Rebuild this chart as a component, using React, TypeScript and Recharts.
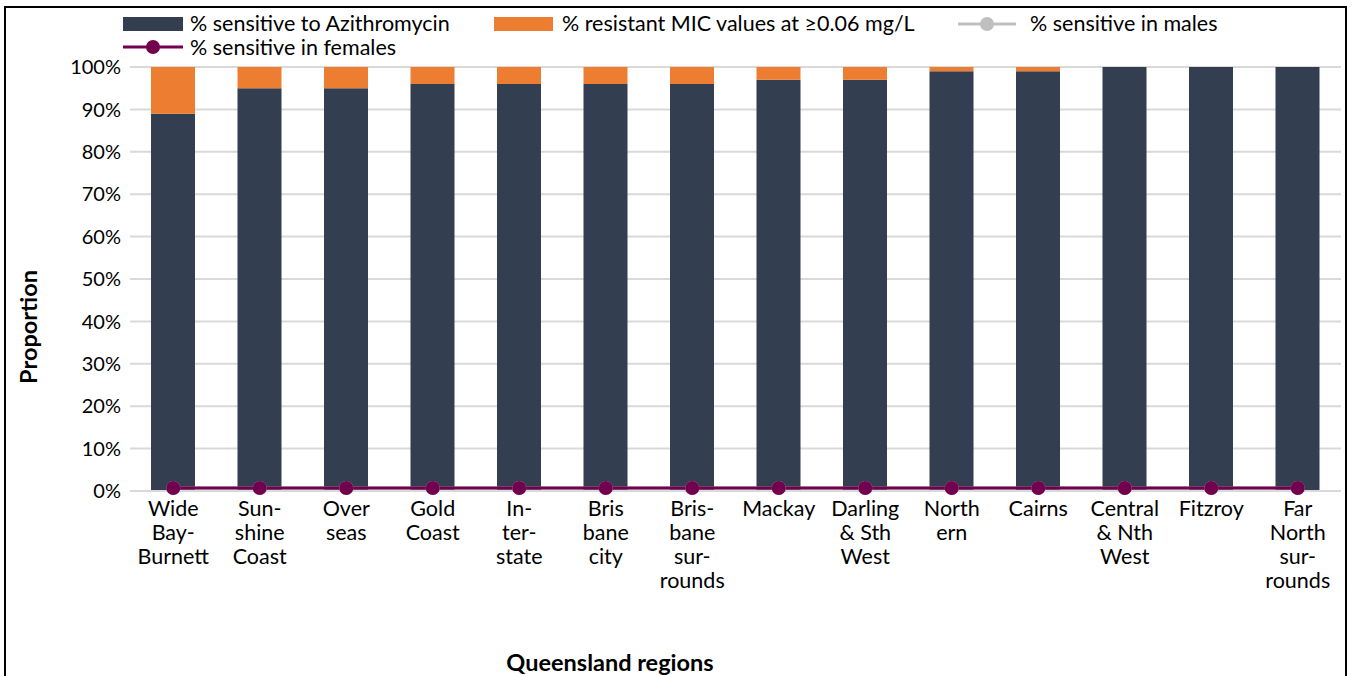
import React from "react";
import { ComposedChart, Bar, Line, XAxis, YAxis, CartesianGrid, Legend } from "recharts";

const categories = [
  "Wide\nBay-\nBurnett",
  "Sun-\nshine\nCoast",
  "Over\nseas",
  "Gold\nCoast",
  "In-\nter-\nstate",
  "Bris\nbane\ncity",
  "Bris-\nbane\nsur-\nrounds",
  "Mackay",
  "Darling\n& Sth\nWest",
  "North\nern",
  "Cairns",
  "Central\n& Nth\nWest",
  "Fitzroy",
  "Far\nNorth\nsur-\nrounds",
];
const sensitive = [89, 95, 95, 96, 96, 96, 96, 97, 97, 99, 99, 100, 100, 100];
const resistant = [11, 5, 5, 4, 4, 4, 4, 3, 3, 1, 1, 0, 0, 0];
const males = [0.7, 0.7, 0.7, 0.7, 0.7, 0.7, 0.7, 0.7, 0.7, 0.7, 0.7, 0.7, 0.7, 0.7];
const females = [0.7, 0.7, 0.7, 0.7, 0.7, 0.7, 0.7, 0.7, 0.7, 0.7, 0.7, 0.7, 0.7, 0.7];
const yTicks = [0, 10, 20, 30, 40, 50, 60, 70, 80, 90, 100];

const data = categories.map((c, i) => ({
  name: c,
  sensitive: sensitive[i],
  resistant: resistant[i],
  males: males[i],
  females: females[i],
}));

const FONT = "Lato, 'Open Sans', sans-serif";
const DARK = "#333F50";
const ORANGE = "#ED7D31";
const PURPLE = "#72004F";
const GREY = "#BFBFBF";

const XTick = (props: any) => {
  const { x, y, payload } = props;
  const lines = String(payload.value).split("\n");
  return (
    <text x={x} y={y} textAnchor="middle" fontSize={21.5} fill="#000" fontFamily={FONT}>
      {lines.map((l, i) => (
        <tspan key={i} x={x} dy={i === 0 ? 25 : 24}>
          {l}
        </tspan>
      ))}
    </text>
  );
};

const LegendContent = () => {
  const txt: React.CSSProperties = {
    position: "absolute",
    fontFamily: FONT,
    fontSize: 21.5,
    color: "#000",
    whiteSpace: "nowrap",
    lineHeight: "24px",
  };
  return (
    <div style={{ position: "relative", width: 1354, height: 60 }}>
      <div style={{ position: "absolute", left: 123, top: 17, width: 60, height: 14, background: DARK }} />
      <div style={{ ...txt, left: 190, top: 11 }}>% sensitive to Azithromycin</div>
      <div style={{ position: "absolute", left: 494, top: 17, width: 59, height: 14, background: ORANGE }} />
      <div style={{ ...txt, left: 562, top: 11 }}>% resistant MIC values at ≥0.06 mg/L</div>
      <svg style={{ position: "absolute", left: 955, top: 14 }} width={64} height={20}>
        <line x1={3} y1={10} x2={61} y2={10} stroke={GREY} strokeWidth={3} />
        <circle cx={32} cy={10} r={7} fill={GREY} />
      </svg>
      <div style={{ ...txt, left: 1030, top: 11 }}>% sensitive in males</div>
      <svg style={{ position: "absolute", left: 120, top: 37 }} width={66} height={20}>
        <line x1={3} y1={10} x2={63} y2={10} stroke={PURPLE} strokeWidth={3} />
        <circle cx={33} cy={10} r={7} fill={PURPLE} />
      </svg>
      <div style={{ ...txt, left: 190, top: 35 }}>% sensitive in females</div>
    </div>
  );
};

export default function App() {
  return (
    <div style={{ position: "absolute", left: 0, top: 0, width: 1354, height: 676, overflow: "hidden", background: "#fff" }}>
      <div
        style={{
          position: "absolute",
          left: 4,
          top: 6,
          width: 1339,
          height: 690,
          border: "2px solid #000",
        }}
      />
      <ComposedChart
        width={1354}
        height={676}
        data={data}
        margin={{ top: 7, right: 13, bottom: 0, left: 70 }}
        style={{ position: "absolute", left: 0, top: 0 }}
      >
        <CartesianGrid vertical={false} stroke="#D9D9D9" strokeWidth={2} />
        <XAxis
          dataKey="name"
          height={185}
          tick={<XTick />}
          tickLine={false}
          tickSize={0}
          tickMargin={0}
          axisLine={{ stroke: "#D9D9D9", strokeWidth: 2 }}
          interval={0}
        />
        <YAxis
          width={60}
          domain={[0, 100]}
          ticks={yTicks}
          tickFormatter={(v: number) => `${v}%`}
          tick={{ fontSize: 20, fill: "#000", fontFamily: FONT }}
          tickLine={false}
          tickSize={0}
          tickMargin={9}
          axisLine={false}
          interval={0}
        />
        <Legend
          verticalAlign="top"
          content={<LegendContent />}
          wrapperStyle={{ position: "absolute", left: 0, top: 0, width: 1354, height: 60 }}
        />
        <Bar dataKey="sensitive" stackId="a" fill={DARK} barSize={44} isAnimationActive={false} />
        <Bar dataKey="resistant" stackId="a" fill={ORANGE} barSize={44} isAnimationActive={false} />
        <Line
          dataKey="males"
          stroke={GREY}
          strokeWidth={3}
          dot={{ r: 7, fill: GREY, stroke: GREY, strokeWidth: 0 }}
          isAnimationActive={false}
        />
        <Line
          dataKey="females"
          stroke={PURPLE}
          strokeWidth={3}
          dot={{ r: 7, fill: PURPLE, stroke: PURPLE, strokeWidth: 0 }}
          isAnimationActive={false}
        />
      </ComposedChart>
      <div
        style={{
          position: "absolute",
          left: 28,
          top: 327,
          transform: "translate(-50%, -50%) rotate(-90deg)",
          fontFamily: FONT,
          fontWeight: 700,
          fontSize: 23.5,
          whiteSpace: "nowrap",
          color: "#000",
        }}
      >
        Proportion
      </div>
      <div
        style={{
          position: "absolute",
          left: 610,
          top: 662,
          transform: "translate(-50%, -50%)",
          fontFamily: FONT,
          fontWeight: 700,
          fontSize: 23.5,
          whiteSpace: "nowrap",
          color: "#000",
        }}
      >
        Queensland regions
      </div>
    </div>
  );
}
